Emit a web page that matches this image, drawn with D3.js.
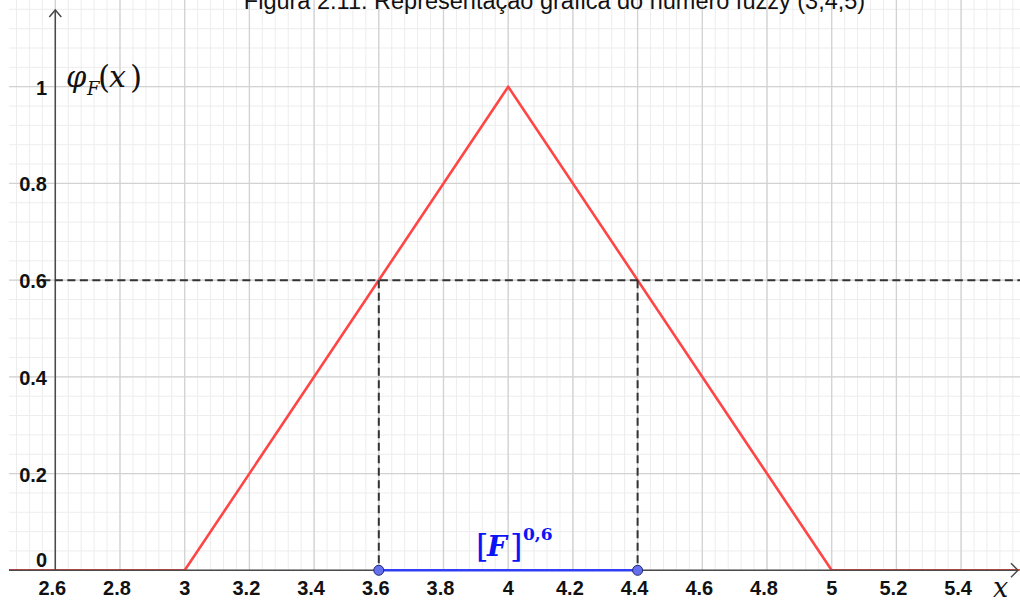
<!DOCTYPE html>
<html>
<head>
<meta charset="utf-8">
<script src="https://cdn.jsdelivr.net/npm/d3@7"></script>
<style>
  html, body { margin: 0; padding: 0; background: #fff; }
  svg { display: block; }
</style>
</head>
<body>
<svg id="chart" width="1020" height="601"></svg>
<script>
// ---- data ----
const titleText = "Figura 2.11: Representação gráfica do número fuzzy (3,4,5)";
const xTickLabels = ["2.6","2.8","3","3.2","3.4","3.6","3.8","4","4.2","4.4","4.6","4.8","5","5.2","5.4"];
const yTickLabels = ["0","0.2","0.4","0.6","0.8","1"];
const membershipX = [2.4, 3, 4, 5, 5.6];
const membershipY = [0, 0, 1, 0, 0];
const alphaLevel = 0.6;
const alphaCut = [3.6, 4.4];

// ---- scales ----
const W = 1020, H = 601;
const x = d3.scaleLinear().domain([3, 5]).range([184.7, 831.7]);
const y = d3.scaleLinear().domain([0, 1]).range([570.3, 86.7]);
const xMin = x.invert(0), xMax = x.invert(W);
const yMax = y.invert(0);
const axisX = 2.6; // position of the vertical axis

const svg = d3.select("#chart");

// clip for graphics view
svg.append("defs").append("clipPath").attr("id", "view")
  .append("rect").attr("x", 9).attr("y", 0).attr("width", W - 9).attr("height", y(0) + 0.5);

const gView = svg.append("g").attr("clip-path", "url(#view)");

// grid
const minorX = d3.range(Math.ceil(xMin / 0.04) * 0.04, xMax, 0.04);
const minorY = d3.range(0, yMax + 0.04, 0.04);
const majorX = d3.range(Math.ceil(xMin / 0.2) * 0.2, xMax, 0.2);
const majorY = d3.range(0, yMax + 0.2, 0.2);

gView.append("g").selectAll("line").data(minorX).join("line")
  .attr("x1", d => x(d)).attr("x2", d => x(d)).attr("y1", 0).attr("y2", y(0))
  .attr("stroke", "#ededed").attr("stroke-width", 1);
gView.append("g").selectAll("line").data(minorY).join("line")
  .attr("y1", d => y(d)).attr("y2", d => y(d)).attr("x1", 0).attr("x2", W)
  .attr("stroke", "#ededed").attr("stroke-width", 1);
gView.append("g").selectAll("line").data(majorX).join("line")
  .attr("x1", d => x(d)).attr("x2", d => x(d)).attr("y1", 0).attr("y2", y(0))
  .attr("stroke", "#d2d2d2").attr("stroke-width", 1.3);
gView.append("g").selectAll("line").data(majorY).join("line")
  .attr("y1", d => y(d)).attr("y2", d => y(d)).attr("x1", 0).attr("x2", W)
  .attr("stroke", "#d2d2d2").attr("stroke-width", 1.3);

// axes
const axisColor = "#4a4a4a";
svg.append("line").attr("x1", 9).attr("x2", W - 2).attr("y1", y(0)).attr("y2", y(0))
  .attr("stroke", axisColor).attr("stroke-width", 1.5);
svg.append("path")
  .attr("d", `M${W - 9},${y(0) - 7} L${W - 2},${y(0)} L${W - 9},${y(0) + 7}`)
  .attr("fill", "none").attr("stroke", axisColor).attr("stroke-width", 1.5);
svg.append("line").attr("x1", x(axisX)).attr("x2", x(axisX)).attr("y1", y(0)).attr("y2", 10)
  .attr("stroke", axisColor).attr("stroke-width", 1.5);
svg.append("path")
  .attr("d", `M${x(axisX) - 6},${17} L${x(axisX)},${10} L${x(axisX) + 6},${17}`)
  .attr("fill", "none").attr("stroke", axisColor).attr("stroke-width", 1.5);

// dashed alpha-cut guides
const dashColor = "#333";
svg.append("line")
  .attr("x1", x(axisX - 0.04)).attr("x2", W).attr("y1", y(alphaLevel)).attr("y2", y(alphaLevel))
  .attr("stroke", dashColor).attr("stroke-width", 2).attr("stroke-dasharray", "8,4.5");
svg.append("g").selectAll("line").data(alphaCut).join("line")
  .attr("x1", d => x(d)).attr("x2", d => x(d)).attr("y1", y(alphaLevel)).attr("y2", y(0))
  .attr("stroke", dashColor).attr("stroke-width", 2).attr("stroke-dasharray", "8,4.5");

// membership function
const pts = membershipX.map((d, i) => [d, membershipY[i]]);
gView.append("path")
  .datum(pts)
  .attr("d", d3.line().x(d => x(d[0])).y(d => y(d[1])))
  .attr("fill", "none").attr("stroke", "#ff4646").attr("stroke-width", 2.6)
  .attr("stroke-linejoin", "round");

// alpha-cut segment
svg.append("line")
  .attr("x1", x(alphaCut[0])).attr("x2", x(alphaCut[1])).attr("y1", y(0)).attr("y2", y(0))
  .attr("stroke", "#2f3ff2").attr("stroke-width", 2.4);
svg.append("g").selectAll("circle").data(alphaCut).join("circle")
  .attr("cx", d => x(d)).attr("cy", y(0)).attr("r", 5)
  .attr("fill", "#6470ee").attr("stroke", "#1f2470").attr("stroke-width", 1);

// tick labels
svg.append("g").selectAll("text").data(xTickLabels).join("text")
  .attr("x", d => x(+d) - (d.includes(".") ? 3 : 0)).attr("y", 595)
  .attr("text-anchor", "middle")
  .attr("font-family", "Liberation Sans, Arial, sans-serif").attr("font-weight", "bold")
  .attr("font-size", 20).attr("fill", "#111")
  .text(d => d);
svg.append("g").selectAll("text").data(yTickLabels).join("text")
  .attr("x", 47).attr("y", d => +d === 0 ? y(0) - 3 : y(+d) + 8)
  .attr("text-anchor", "end")
  .attr("font-family", "Liberation Sans, Arial, sans-serif").attr("font-weight", "bold")
  .attr("font-size", 20).attr("fill", "#111")
  .text(d => d);

// axis names
const mathFont = "DejaVu Serif, Liberation Serif, serif";
const yl = svg.append("text").attr("font-family", mathFont).attr("fill", "#111");
yl.append("tspan").attr("x", 66).attr("y", 87).attr("font-size", 29).attr("font-style", "italic").text("φ");
yl.append("tspan").attr("x", 87).attr("y", 95).attr("font-size", 18).attr("font-style", "italic").text("F");
yl.append("tspan").attr("x", 98).attr("y", 88).attr("font-size", 31).text("(");
yl.append("tspan").attr("x", 109).attr("y", 87).attr("font-size", 30).attr("font-style", "italic").text("x");
yl.append("tspan").attr("x", 130).attr("y", 88).attr("font-size", 31).text(")");

svg.append("text").attr("x", 993).attr("y", 597)
  .attr("font-family", mathFont).attr("font-style", "italic").attr("font-size", 27)
  .attr("fill", "#111").text("x");

// alpha-cut label [F]^{0,6}
const al = svg.append("text").attr("font-family", mathFont).attr("fill", "#0a14f5");
al.append("tspan").attr("x", 476).attr("y", 557).attr("font-size", 32).text("[");
al.append("tspan").attr("x", 487).attr("y", 556).attr("font-size", 28)
  .attr("font-weight", "bold").attr("font-style", "italic").text("F");
al.append("tspan").attr("x", 510).attr("y", 557).attr("font-size", 32).text("]");
al.append("tspan").attr("x", 523).attr("y", 540).attr("font-size", 17)
  .attr("font-weight", "bold").text("0,6");

// title (clipped at top, as in the reference)
svg.append("text").attr("x", 554.5).attr("y", 9)
  .attr("text-anchor", "middle")
  .attr("font-family", "Liberation Sans, Arial, sans-serif").attr("font-size", 23.5)
  .attr("fill", "#111").text(titleText);
</script>
</body>
</html>
